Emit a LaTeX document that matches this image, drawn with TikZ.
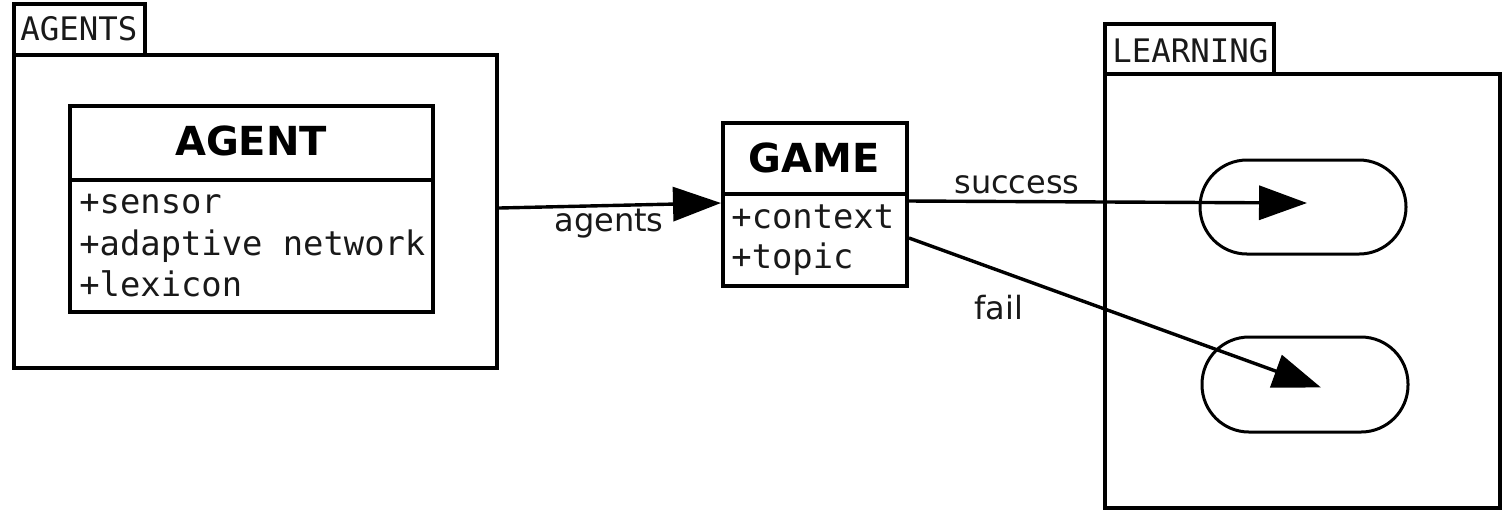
\documentclass[tikz,border=0pt]{standalone}
\usepackage{fontspec}
\setmainfont{DejaVu Sans}
\newfontfamily\umlmono{DejaVu Sans Mono}
\usetikzlibrary{arrows.meta,fit,calc}

\begin{document}
\begin{tikzpicture}[x=0.5pt,y=-0.5pt,
  box/.style={draw,line width=2pt,inner sep=0pt},
  pill/.style={draw,line width=1.5pt,rounded corners=23.5pt,inner sep=0pt},
  title/.style={font=\fontsize{20}{24}\selectfont\bfseries,inner sep=0pt,anchor=base},
  attr/.style={font=\umlmono\fontsize{16.9}{20}\selectfont,inner sep=0pt,anchor=base west,text=black!90},
  tabtext/.style={font=\umlmono\fontsize{16.2}{20}\selectfont,inner sep=0pt,anchor=base west,text=black!90},
  lbl/.style={font=\fontsize{16}{20}\selectfont,inner sep=0pt,anchor=base,text=black!90},
  conn/.style={line width=1.7pt,-{Triangle[length=24pt,width=17pt]}}]
\useasboundingbox (0,0) rectangle (1502,511);

% AGENTS package
\node[box,fit={(14,4)(145,55)}] (agentstab) {};
\node[box,fit={(14,55)(497,368)}] (agentspkg) {};
\node[tabtext] (agentsname) at (20,40) {AGENTS};

% AGENT class
\node[box,fit={(70,106)(433,180)}] (agenthead) {};
\node[box,fit={(70,180)(433,312)}] (agentattr) {};
\node[title] (agenttitle) at (251,155) {AGENT};
\node[attr] (a1) at (79,213) {+sensor};
\node[attr] (a2) at (79,255) {+adaptive network};
\node[attr] (a3) at (79,296) {+lexicon};

% GAME class
\node[box,fit={(723,123)(907,194)}] (gamehead) {};
\node[box,fit={(723,194)(907,286)}] (gameattr) {};
\node[title] (gametitle) at (814,172) {GAME};
\node[attr] (g1) at (731,228) {+context};
\node[attr] (g2) at (731,268) {+topic};

% LEARNING package
\node[box,fit={(1105,24)(1274,74)}] (learntab) {};
\node[box,fit={(1105,74)(1500,508)}] (learnpkg) {};
\node[tabtext] (learnname) at (1112,62) {LEARNING};
\node[pill,fit={(1200,160)(1406,254)}] (succstate) {};
\node[pill,fit={(1202,337)(1408,432)}] (failstate) {};

% connectors
\draw[conn] ([yshift=1.75pt]agentspkg.east) -- ([yshift=-5.5pt]gameattr.north west);
\node[lbl] (agentslbl) at (609,231) {agents};

\draw[conn] ([yshift=-4.5pt]gameattr.north east) -- ([xshift=2pt,yshift=2pt]succstate.center);
\node[lbl] (succlbl) at (1017,193) {success};

\draw[conn] ([yshift=1pt]gameattr.east) -- ([xshift=8pt,yshift=-1.5pt]failstate.center);
\node[lbl] (faillbl) at (999,319) {fail};
\end{tikzpicture}
\end{document}
